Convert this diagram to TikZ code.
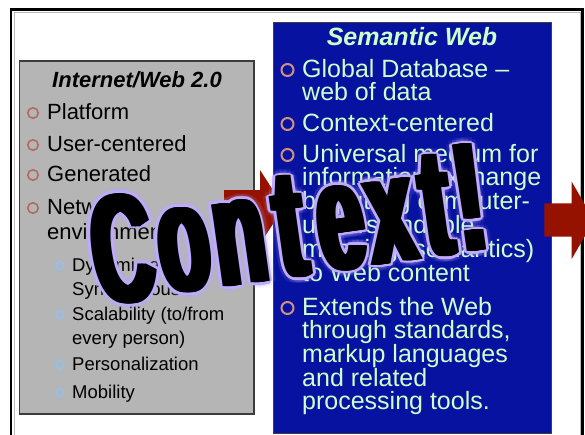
\documentclass[tikz,border=0pt]{standalone}
\usepackage{fontspec}
\setmainfont{Liberation Sans}
\usetikzlibrary{calc}
\definecolor{boxgray}{RGB}{181,181,181}
\definecolor{boxedge}{RGB}{60,60,60}
\definecolor{semblue}{RGB}{8,18,160}
\definecolor{semtext}{RGB}{204,255,204}
\definecolor{arrowred}{RGB}{150,18,0}
\definecolor{bulred}{RGB}{175,105,95}
\definecolor{bulpink}{RGB}{205,145,125}
\definecolor{bulblue}{RGB}{140,195,250}
\definecolor{glowcol}{RGB}{190,170,255}
\begin{document}
\begin{tikzpicture}[x=1pt,y=-1pt,
  lefttitle/.style={anchor=base,inner sep=0pt,font=\fontsize{22}{22}\selectfont\bfseries\itshape},
  lefttext/.style={anchor=base west,inner sep=0pt,font=\fontsize{22}{22}\selectfont},
  subtext/.style={anchor=base west,inner sep=0pt,font=\fontsize{18.5}{18.5}\selectfont},
  righttitle/.style={anchor=base,inner sep=0pt,text=semtext,font=\fontsize{25}{25}\selectfont\bfseries\itshape},
  righttext/.style={anchor=base west,inner sep=0pt,text=semtext,font=\fontsize{25}{25}\selectfont},
  mainbul/.style={circle,draw=bulred,line width=1.5pt,minimum size=10.5pt,inner sep=0pt},
  subbul/.style={circle,draw=bulblue,line width=1.3pt,minimum size=8pt,inner sep=0pt},
  rightbul/.style={circle,draw=bulpink,line width=2pt,minimum size=12pt,inner sep=0pt},
  ctxink/.style={anchor=base,inner sep=0pt,text=black,rotate=8,xscale=0.55,yscale=1.04,font=\fontsize{150}{150}\selectfont\bfseries},
  ctxglow/.style={ctxink,text=glowcol},
  ctxhalo/.style={ctxink,text=glowcol,opacity=0.09}]
\clip (0,0) rectangle (585,434);
\fill[white] (0,0) rectangle (585,434);
% outer frame
\draw[gray!55,line width=1pt] (14,450) -- (14,12) -- (580,12) -- (580,450);
\draw[black,line width=2.3pt] (11,450) -- (11,9.5) -- (582.5,9.5) -- (582.5,450);
% left box
\draw[fill=boxgray,draw=boxedge,line width=1.3pt] (19.5,61) rectangle (254,414);
\node[lefttitle] (ltitle) at (137,87) {Internet/Web 2.0};
\node[mainbul] (lb1) at (33,113) {};
\node[lefttext] (lt1) at (47,119) {Platform};
\node[mainbul] (lb2) at (33,145) {};
\node[lefttext] (lt2) at (47,151) {User-centered};
\node[mainbul] (lb3) at (33,175) {};
\node[lefttext] (lt3) at (47,181) {Generated};
\node[mainbul] (lb4) at (33,208) {};
\node[lefttext] (lt4a) at (47,214) {Network};
\node[lefttext] (lt4b) at (47,239) {environment};
\node[subbul] (sb1) at (60,265.5) {};
\node[subtext] (st1a) at (72,271) {Dynamic and};
\node[subtext] (st1b) at (72,295) {Synchronous};
\node[subbul] (sb2) at (60,314.5) {};
\node[subtext] (st2a) at (72,320) {Scalability (to/from};
\node[subtext] (st2b) at (72,344) {every person)};
\node[subbul] (sb3) at (60,364.5) {};
\node[subtext] (st3) at (72,370) {Personalization};
\node[subbul] (sb4) at (60,392.5) {};
\node[subtext] (st4) at (72,398) {Mobility};
% left arrow
\fill[arrowred] (224,190) -- (260,190) -- (260,170) -- (284,207) -- (260,244) -- (260,224) -- (224,224) -- cycle;
% right box
\draw[fill=semblue,draw=black!75,line width=1pt] (273,22.5) rectangle (551,433);
\node[righttitle] (rtitle) at (412,45) {Semantic Web};
\node[rightbul] (rb1) at (287.5,70) {};
\node[righttext] (rt1a) at (302,77) {Global Database --};
\node[righttext] (rt1b) at (302,100) {web of data};
\node[rightbul] (rb2) at (287.5,124) {};
\node[righttext] (rt2) at (302,131) {Context-centered};
\node[rightbul] (rb3) at (287.5,155) {};
\node[righttext] (rt3a) at (302,162) {Universal medium for};
\node[righttext] (rt3b) at (302,185.8) {information exchange};
\node[righttext] (rt3c) at (302,209.6) {by putting computer-};
\node[righttext] (rt3d) at (302,233.4) {understandable};
\node[righttext] (rt3e) at (302,257.2) {meaning (semantics)};
\node[righttext] (rt3f) at (302,281) {to Web content};
\node[rightbul] (rb4) at (287.5,308) {};
\node[righttext] (rt4a) at (302,315) {Extends the Web};
\node[righttext] (rt4b) at (302,338.7) {through standards,};
\node[righttext] (rt4c) at (302,362.4) {markup languages};
\node[righttext] (rt4d) at (302,386.1) {and related};
\node[righttext] (rt4e) at (302,409.8) {processing tools.};
% right arrow
\fill[arrowred] (544.3,203.3) -- (571.7,203.3) -- (571.7,181.7) -- (594,220.3) -- (571.7,259) -- (571.7,236.7) -- (544.3,236.7) -- cycle;
% Context! word art
\foreach \ch/\px/\py in {C/130/302,o/190/291,n/246/284,t/297/277,e/347/269,x/397/262,t/443/256,!/477/251}{
  \foreach \dx in {-4,0,4}{\foreach \a in {0,45,...,315}{
    \node[ctxhalo] at ($(\px,\py)+(\dx,0)+(\a:6)$) {\ch};}}
}
\foreach \ch/\px/\py in {C/130/302,o/190/291,n/246/284,t/297/277,e/347/269,x/397/262,t/443/256,!/477/251}{
  \foreach \dx in {-4,-2,0,2,4}{\foreach \a in {0,45,...,315}{
    \node[ctxglow] at ($(\px,\py)+(\dx,0)+(\a:2.6)$) {\ch};}}
}
\foreach \ch/\px/\py [count=\i] in {C/130/302,o/190/291,n/246/284,t/297/277,e/347/269,x/397/262,t/443/256,!/477/251}{
  \foreach \dx in {-4,-3,...,4}{
    \node[ctxink] at ($(\px,\py)+(\dx,0)$) {\ch};}
  \node[ctxink] (ctx\i) at (\px,\py) {\ch};
}
\end{tikzpicture}
\end{document}
